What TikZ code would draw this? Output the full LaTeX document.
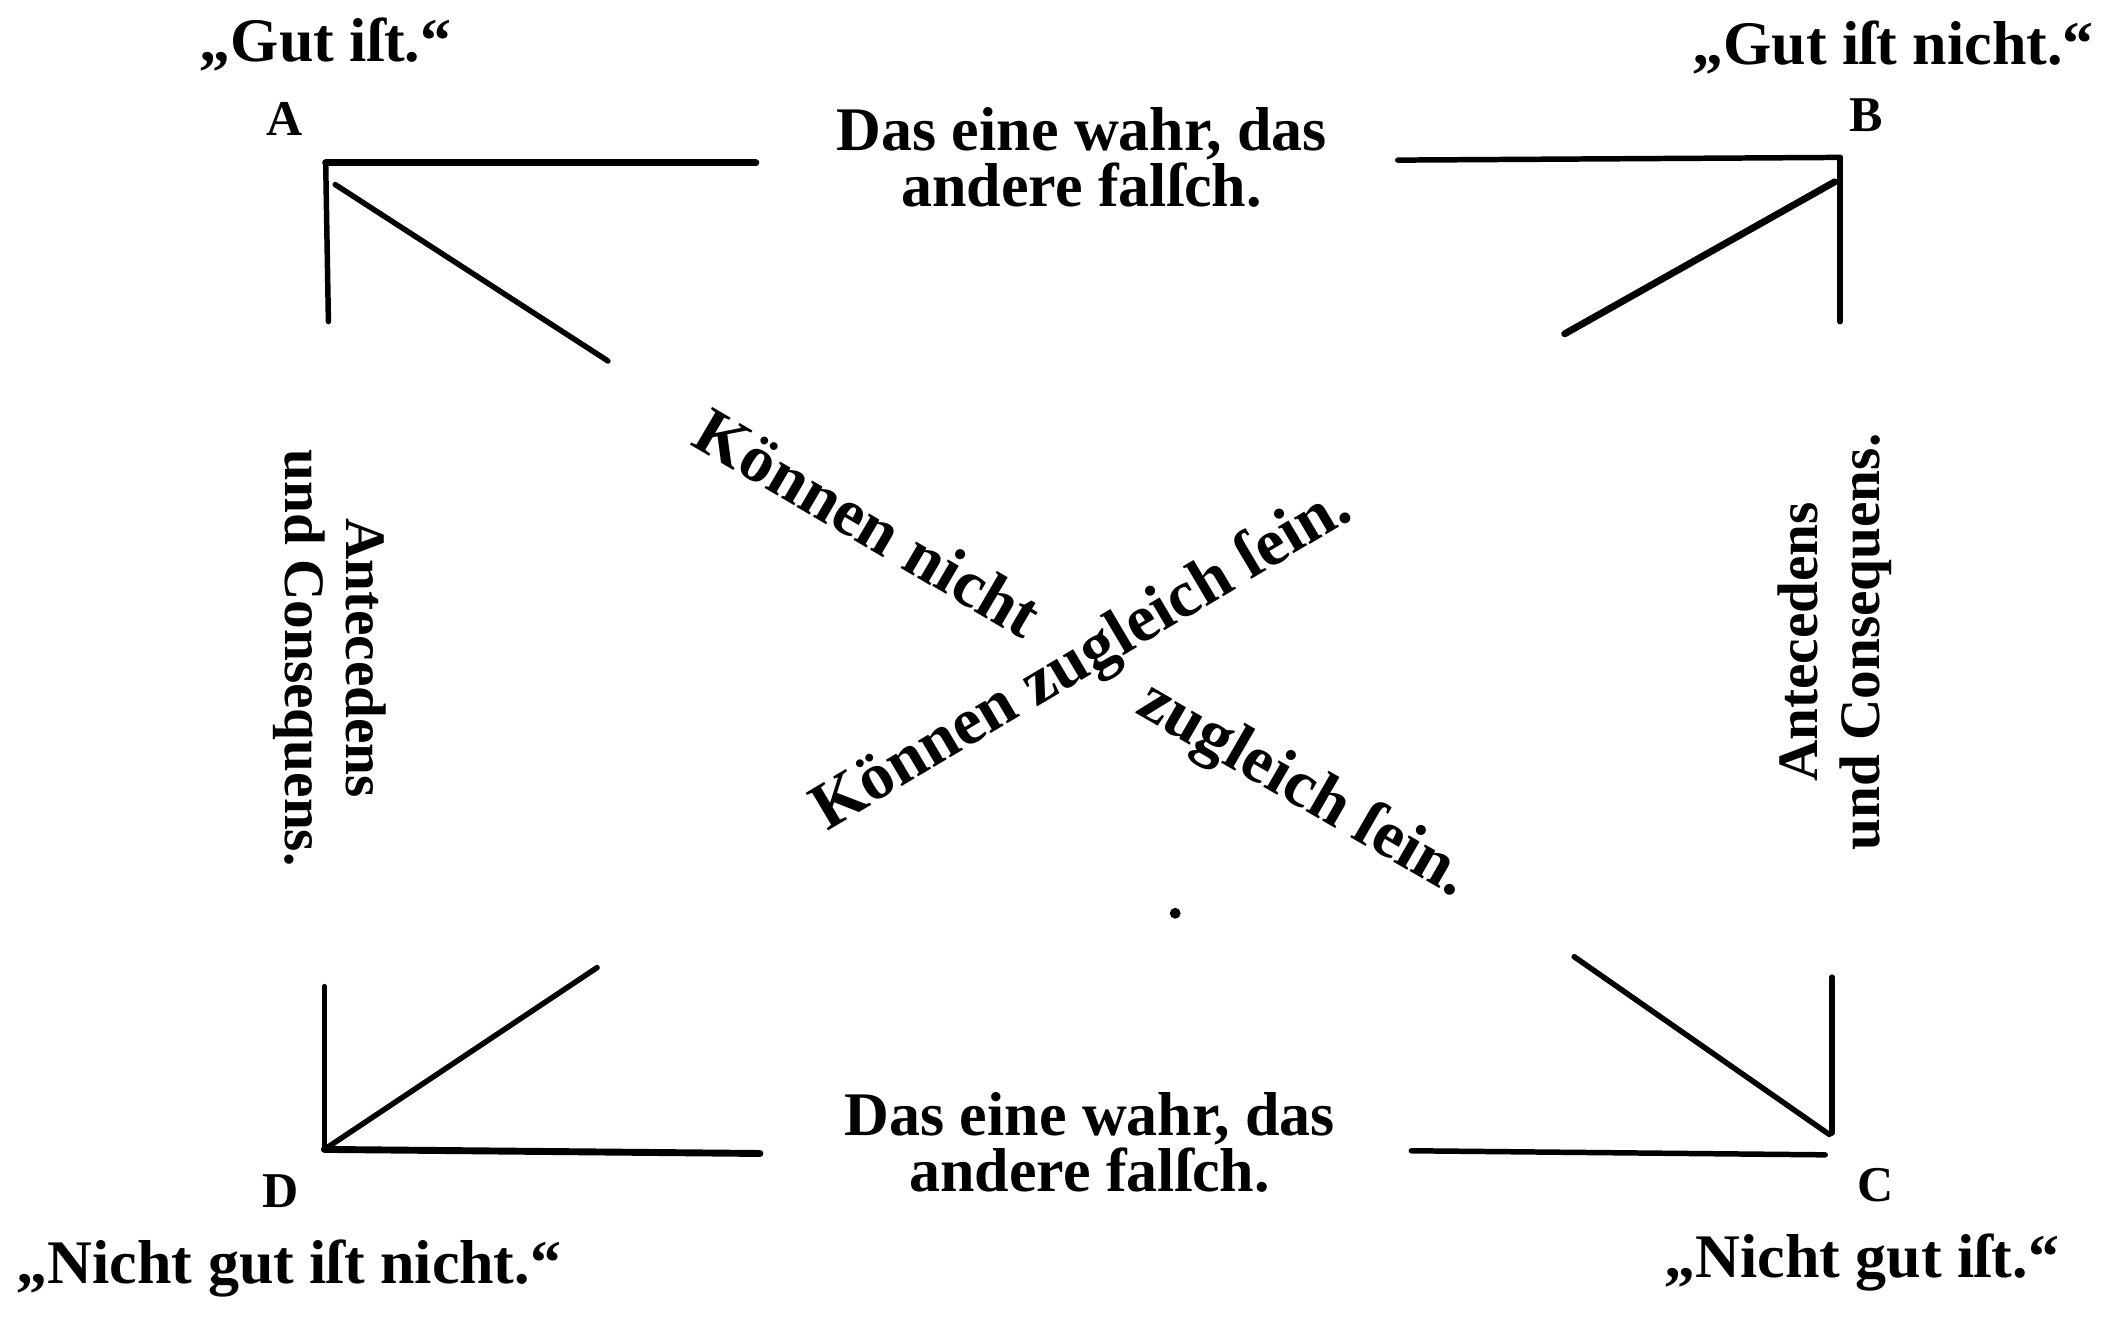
\documentclass[tikz,border=0pt]{standalone}
\usepackage{fontspec}
\setmainfont{Liberation Serif}
\begin{document}
\begin{tikzpicture}[x=0.02cm,y=-0.02cm,
  lbl/.style={font=\bfseries\fontsize{26}{21}\selectfont, inner sep=0pt, align=center},
  corner/.style={font=\bfseries\fontsize{21}{24}\selectfont, inner sep=0pt},
  side/.style={font=\bfseries\fontsize{24}{26}\selectfont, inner sep=0pt, align=center},
  diag/.style={font=\bfseries\fontsize{28}{30}\selectfont, inner sep=0pt},
  heavy/.style={line width=2.9pt, line cap=round},
  thin/.style={line width=2.3pt, line cap=round}]
\useasboundingbox (0,0) rectangle (1560,972);
% corner coordinates
\coordinate (A) at (240,120);
\coordinate (B) at (1356,116);
\coordinate (C) at (1348,836);
\coordinate (D) at (239,847);
\coordinate (Ah) at (557,120);
\coordinate (Av) at (242,237);
\coordinate (Ad) at (448,266);
\coordinate (Ad0) at (247,136);
\coordinate (Bh) at (1030,118);
\coordinate (Bv) at (1356,237);
\coordinate (Bd) at (1153,246);
\coordinate (Bd0) at (1352,134);
\coordinate (Ch) at (1040,848);
\coordinate (Ch0) at (1345,851);
\coordinate (Cv0) at (1350,720);
\coordinate (Cv) at (1350,835);
\coordinate (Cd) at (1160,705);
\coordinate (Dv) at (239,727);
\coordinate (Dh) at (560,850);
\coordinate (Dd) at (440,713);
% lines
\draw[heavy] (A) -- (Ah);
\draw[thin] (A) -- (Av);
\draw[thin] (Ad0) -- (Ad);
\draw[thin] (Bh) -- (B);
\draw[thin] (B) -- (Bv);
\draw[heavy] (Bd0) -- (Bd);
\draw[thin] (Ch) -- (Ch0);
\draw[thin] (Cv0) -- (Cv);
\draw[thin] (Cd) -- (C);
\draw[thin] (Dv) -- (D);
\draw[heavy] (D) -- (Dh);
\draw[thin] (D) -- (Dd);
% corner letters and quotes
\node[corner] (lA) at (210,88) {A};
\node[corner] (lB) at (1375,85) {B};
\node[corner] (lC) at (1382,873) {C};
\node[corner] (lD) at (207,878) {D};
\node[lbl] (qA) at (240,33) {„Gut iſt.“};
\node[lbl] (qB) at (1395,35) {„Gut iſt nicht.“};
\node[lbl] (qC) at (1372,930) {„Nicht gut iſt.“};
\node[lbl] (qD) at (213,935) {„Nicht gut iſt nicht.“};
% top and bottom
\node[lbl] (top) at (797,116) {Das eine wahr, das\\andere falſch.};
\node[lbl] (bot) at (803,842) {Das eine wahr, das\\andere falſch.};
% sides
\node[side, rotate=-90] (left) at (243,485) {Antecedens\\und Consequens.};
\node[side, rotate=90] (right) at (1352,473) {Antecedens\\und Consequens.};
% diagonals
\node[diag, rotate=-30.4] (kn) at (640,385) {Können nicht};
\node[diag, rotate=-30] (zs) at (960,583) {zugleich ſein.};
\node[diag, rotate=30.7] (kz) at (798,487) {Können zugleich ſein.};
\fill (866,673) circle (4);
\end{tikzpicture}
\end{document}
